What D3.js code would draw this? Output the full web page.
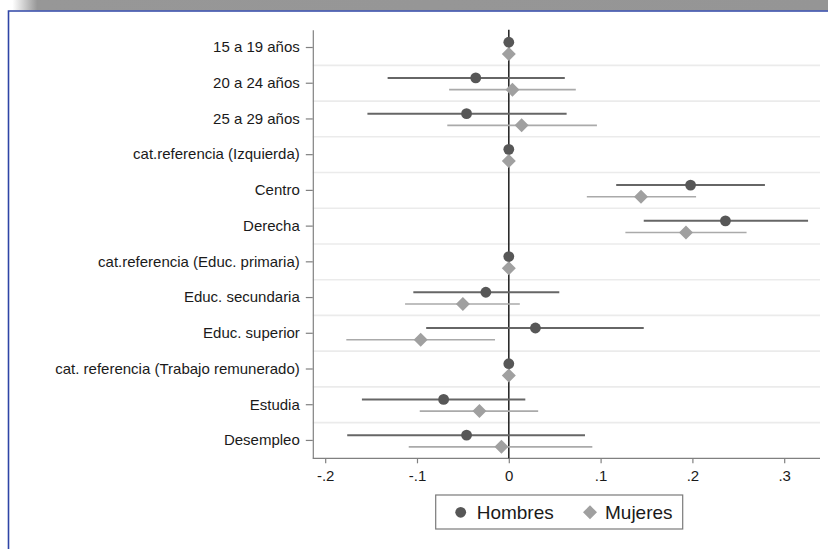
<!DOCTYPE html>
<html>
<head>
<meta charset="utf-8">
<script src="https://cdn.jsdelivr.net/npm/d3@7"></script>
<style>
  body { margin: 0; background: #fff; }
  svg text { font-family: "Liberation Sans", Arial, sans-serif; fill: #1a1a1a; }
</style>
</head>
<body>
<svg id="chart" width="828" height="549"></svg>
<script>
// categories, top to bottom
const categories = [
  "15 a 19 años", "20 a 24 años", "25 a 29 años",
  "cat.referencia (Izquierda)", "Centro", "Derecha",
  "cat.referencia (Educ. primaria)", "Educ. secundaria", "Educ. superior",
  "cat. referencia (Trabajo remunerado)", "Estudia", "Desempleo"
];

// point estimates and confidence intervals (null = reference category)
const hombresEst = [0, -0.036, -0.046, 0, 0.198, 0.236, 0, -0.025, 0.029, 0, -0.071, -0.046];
const hombresLo  = [null, -0.132, -0.154, null, 0.117, 0.147, null, -0.104, -0.090, null, -0.160, -0.176];
const hombresHi  = [null, 0.061, 0.063, null, 0.279, 0.326, null, 0.055, 0.147, null, 0.018, 0.083];

const mujeresEst = [0, 0.004, 0.014, 0, 0.144, 0.193, 0, -0.050, -0.096, 0, -0.032, -0.008];
const mujeresLo  = [null, -0.065, -0.067, null, 0.085, 0.127, null, -0.113, -0.177, null, -0.097, -0.109];
const mujeresHi  = [null, 0.073, 0.096, null, 0.204, 0.259, null, 0.012, -0.015, null, 0.032, 0.091];

const xTicks = [-0.2, -0.1, 0, 0.1, 0.2, 0.3];
const xTickLabels = ["-.2", "-.1", "0", ".1", ".2", ".3"];
const seriesNames = ["Hombres", "Mujeres"];

const svg = d3.select("#chart");

// top banner + blue frame
const defs = svg.append("defs");
const grad = defs.append("linearGradient").attr("id", "band")
  .attr("x1", 0).attr("x2", 1).attr("y1", 0).attr("y2", 0);
grad.append("stop").attr("offset", "0.015").attr("stop-color", "#ffffff");
grad.append("stop").attr("offset", "0.045").attr("stop-color", "#979797");
grad.append("stop").attr("offset", "1").attr("stop-color", "#959595");
svg.append("rect").attr("x", 0).attr("y", 0).attr("width", 828).attr("height", 10.5)
  .attr("fill", "url(#band)");
svg.append("path")
  .attr("d", "M8.5,549 V11 H828")
  .attr("fill", "none").attr("stroke", "#2f45a6").attr("stroke-width", 1.6);

const x = d3.scaleLinear().domain([-0.2135, 0.339]).range([312.8, 820]);
const y = d3.scaleBand().domain(categories).range([29.65, 458.3]);
const bw = y.bandwidth();

// horizontal gridlines between rows
svg.append("g").selectAll("line")
  .data(categories.slice(1))
  .enter().append("line")
  .attr("x1", x.range()[0]).attr("x2", x.range()[1])
  .attr("y1", d => y(d)).attr("y2", d => y(d))
  .attr("stroke", "#ebebeb").attr("stroke-width", 1.6);

// axes
const yAxis = svg.append("g")
  .attr("transform", `translate(${x.range()[0]},0)`)
  .call(d3.axisLeft(y).tickSize(7).tickSizeOuter(0).tickPadding(6));
const xAxis = svg.append("g")
  .attr("transform", `translate(0,${y.range()[1]})`)
  .call(d3.axisBottom(x).tickValues(xTicks).tickFormat((d, i) => xTickLabels[i])
    .tickSize(5).tickSizeOuter(0).tickPadding(7));
[yAxis, xAxis].forEach(a => {
  a.select(".domain").attr("stroke", "#808080").attr("stroke-width", 1.2);
  a.selectAll(".tick line").attr("stroke", "#808080").attr("stroke-width", 1.2);
  a.selectAll("text").style("font-size", "15px").attr("fill", "#1a1a1a");
});
// the x axis line spans the full plot width
xAxis.select(".domain").attr("d", `M${x.range()[0]},0H${x.range()[1]}`);

// zero reference line
svg.append("line")
  .attr("x1", x(0)).attr("x2", x(0))
  .attr("y1", y.range()[0]).attr("y2", y.range()[1])
  .attr("stroke", "#2b2b2b").attr("stroke-width", 1.6);

const rows = categories.map((c, i) => ({
  cat: c,
  h: { est: hombresEst[i], lo: hombresLo[i], hi: hombresHi[i] },
  m: { est: mujeresEst[i], lo: mujeresLo[i], hi: mujeresHi[i] }
}));

const hOff = -5.3, mOff = 6.4;
const cy = (d, off) => y(d.cat) + bw / 2 + off;

// error bars
svg.append("g").selectAll("line")
  .data(rows.filter(d => d.h.lo !== null))
  .enter().append("line")
  .attr("x1", d => x(d.h.lo)).attr("x2", d => x(d.h.hi))
  .attr("y1", d => cy(d, hOff)).attr("y2", d => cy(d, hOff))
  .attr("stroke", "#666666").attr("stroke-width", 2);
svg.append("g").selectAll("line")
  .data(rows.filter(d => d.m.lo !== null))
  .enter().append("line")
  .attr("x1", d => x(d.m.lo)).attr("x2", d => x(d.m.hi))
  .attr("y1", d => cy(d, mOff)).attr("y2", d => cy(d, mOff))
  .attr("stroke", "#aaaaaa").attr("stroke-width", 1.6);

// markers
const diamond = (cx, cyy, r) => `M${cx},${cyy - r}L${cx + r},${cyy}L${cx},${cyy + r}L${cx - r},${cyy}Z`;
svg.append("g").selectAll("circle")
  .data(rows)
  .enter().append("circle")
  .attr("cx", d => x(d.h.est)).attr("cy", d => cy(d, hOff))
  .attr("r", 5.4).attr("fill", "#575757");
svg.append("g").selectAll("path")
  .data(rows)
  .enter().append("path")
  .attr("d", d => diamond(x(d.m.est), cy(d, mOff), 7))
  .attr("fill", "#a0a0a0");

// legend
const lg = svg.append("g");
lg.append("rect").attr("x", 435.7).attr("y", 495).attr("width", 247).attr("height", 34)
  .attr("fill", "#fff").attr("stroke", "#7a7a7a").attr("stroke-width", 1.2);
lg.append("circle").attr("cx", 460.7).attr("cy", 512.3).attr("r", 5.4).attr("fill", "#575757");
lg.append("path").attr("d", diamond(590, 512.3, 7)).attr("fill", "#a0a0a0");
lg.selectAll("text.lab")
  .data(seriesNames)
  .enter().append("text")
  .attr("class", "lab")
  .attr("x", (d, i) => i === 0 ? 476.7 : 605)
  .attr("y", 519.3)
  .style("font-size", "19px")
  .text(d => d);
</script>
</body>
</html>
